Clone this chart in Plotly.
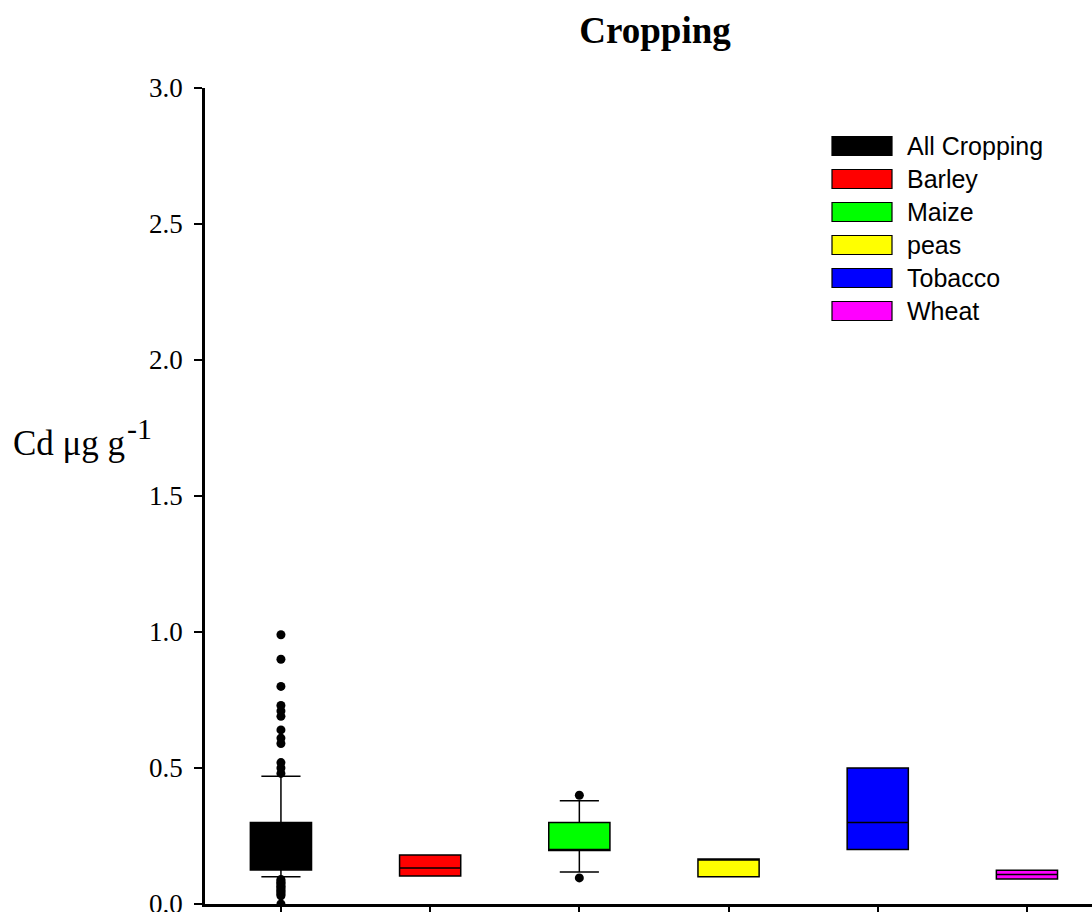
import plotly.graph_objects as go

# Cd concentrations (µg g-1) summarised per crop group
groups = ["All Cropping", "Barley", "Maize", "peas", "Tobacco", "Wheat"]
colors = ["#000000", "#ff0000", "#00ff00", "#ffff00", "#0000ff", "#ff00ff"]
q1 = [0.125, 0.103, 0.197, 0.100, 0.200, 0.092]
median = [0.200, 0.132, 0.197, 0.165, 0.300, 0.108]
q3 = [0.300, 0.180, 0.300, 0.165, 0.500, 0.124]
lower_fence = [0.100, 0.103, 0.118, 0.100, 0.200, 0.092]
upper_fence = [0.470, 0.180, 0.380, 0.165, 0.500, 0.124]

# Outlying observations
outliers_all = [0.99, 0.90, 0.80, 0.73, 0.71, 0.69, 0.64, 0.61, 0.59, 0.52, 0.50, 0.48,
                0.09, 0.085, 0.08, 0.075, 0.07, 0.065, 0.06, 0.055, 0.05, 0.045,
                0.04, 0.035, 0.03, 0.0]
outliers_maize = [0.40, 0.096]
outliers = {"All Cropping": outliers_all, "Maize": outliers_maize}

y_ticks = [0.0, 0.5, 1.0, 1.5, 2.0, 2.5, 3.0]

W, H = 1092, 912
ML, MR, MT, MB = 205, 0, 88, 8
PW, PH = W - ML - MR, H - MT - MB

def px_x(p):
    return (p - ML) / PW

def px_y(p):
    return (H - MB - p) / PH

fig = go.Figure()
for g, c, a, m, b, lo, hi in zip(groups, colors, q1, median, q3, lower_fence, upper_fence):
    fig.add_trace(go.Box(
        x=[g], q1=[a], median=[m], q3=[b], lowerfence=[lo], upperfence=[hi],
        fillcolor=c, line=dict(color="#000000", width=1.5),
        width=0.41, whiskerwidth=0.64, boxpoints=False, showlegend=False,
        name=g,
    ))

for g, vals in outliers.items():
    fig.add_trace(go.Scatter(
        x=[g] * len(vals), y=vals, mode="markers",
        marker=dict(color="#000000", size=9, line=dict(width=0)),
        showlegend=False, hoverinfo="y",
    ))

# Legend drawn as swatches with labels
leg_x0, leg_x1 = 832, 892
row0, row_step, sw_h = 146, 33, 19
shapes = []
annotations = []
for i, (g, c) in enumerate(zip(groups, colors)):
    cy = row0 + i * row_step
    shapes.append(dict(
        type="rect", xref="paper", yref="paper",
        x0=px_x(leg_x0), x1=px_x(leg_x1),
        y0=px_y(cy + sw_h / 2), y1=px_y(cy - sw_h / 2),
        fillcolor=c, line=dict(color="#000000", width=1.2),
    ))
    annotations.append(dict(
        xref="paper", yref="paper", x=px_x(905), y=px_y(cy),
        xanchor="left", yanchor="middle", text=g, showarrow=False,
        font=dict(family="Liberation Sans, Arial", size=25, color="#000000"),
    ))

# y-axis label with a full-height superscript exponent
serif = "Liberation Serif, Times New Roman"
annotations.append(dict(
    xref="paper", yref="paper", x=px_x(11), y=px_y(443),
    xanchor="left", yanchor="middle", showarrow=False,
    text="Cd \u03bcg g",
    font=dict(family=serif, size=35, color="#000000"),
))
annotations.append(dict(
    xref="paper", yref="paper", x=px_x(125), y=px_y(429),
    xanchor="left", yanchor="middle", showarrow=False,
    text="-1",
    font=dict(family=serif, size=30, color="#000000"),
))

fig.update_layout(
    width=W, height=H,
    margin=dict(l=ML, r=MR, t=MT, b=MB),
    paper_bgcolor="#ffffff", plot_bgcolor="#ffffff",
    title=dict(
        text="<b>Cropping</b>", x=655 / W, xanchor="center",
        y=1 - 30 / H, yanchor="middle",
        font=dict(family=serif, size=37, color="#000000"),
    ),
    shapes=shapes, annotations=annotations,
    boxmode="overlay",
)

fig.update_xaxes(
    type="category", categoryorder="array", categoryarray=groups,
    range=[-0.509, -0.509 + PW / 149.2], automargin=False,
    showticklabels=False, ticks="outside", ticklen=9, tickwidth=2, tickcolor="#000000",
    showline=True, linecolor="#000000", linewidth=2.5, showgrid=False, zeroline=False,
)
fig.update_yaxes(
    range=[0, 3], tickvals=y_ticks, ticktext=[f"{v:.1f}" for v in y_ticks],
    automargin=False,
    ticks="outside", ticklen=8, tickwidth=2, tickcolor="#000000",
    showline=True, linecolor="#000000", linewidth=2.5, showgrid=False, zeroline=False,
    tickfont=dict(family=serif, size=27, color="#000000"),
    ticklabelstandoff=6, ticklabeloverflow="allow",
)

fig.write_html("out.html")
